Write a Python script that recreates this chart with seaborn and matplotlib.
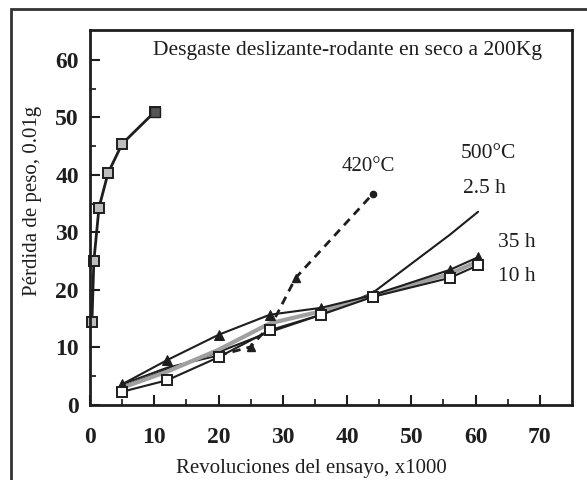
import matplotlib
matplotlib.use("Agg")
import matplotlib.pyplot as plt
import seaborn as sns
from matplotlib.patches import Rectangle

# Data (x in thousands of revolutions, y in 0.01 g)
x_early = [0.3, 0.6, 1.4, 2.8, 5.0, 10.1]
y_early = [14.4, 25, 34.3, 40.3, 45.4, 51]

x_420 = [5, 12, 20, 25, 28.5, 32, 44]
y_420 = [3.6, 6.5, 8.6, 10.1, 14.5, 22.1, 36.7]

x_25h = [5, 12, 20, 28, 36, 44, 56, 60.4]
y_25h = [3.2, 6.2, 9.2, 12.7, 15.7, 19.5, 29.6, 33.6]

x_35h = [5, 12, 20, 28, 36, 44, 56, 60.4]
y_35h = [3.6, 7.8, 12.2, 15.7, 16.9, 19.1, 23.5, 25.7]

x_mid = [5, 12, 20, 28, 36, 44, 56, 60.4]
y_mid = [3.0, 5.8, 9.6, 14.2, 16.3, 19.0, 22.8, 25.0]

x_10h = [5, 12, 20, 28, 36, 44, 56, 60.4]
y_10h = [2.3, 4.3, 8.3, 13.0, 15.7, 18.8, 22.1, 24.3]

sns.set_style("ticks")
plt.rcParams['font.family'] = ['Liberation Serif', 'DejaVu Serif']

fig = plt.figure(figsize=(5.87, 4.80), dpi=100)
ax = fig.add_axes([0.1533, 0.1563, 0.8211, 0.7812])

ink = '#1e1e1e'

# 420 °C: solid start, dashed rise
sns.lineplot(x=x_420[:3], y=y_420[:3], ax=ax, color=ink, lw=1.3, sort=False)
sns.lineplot(x=x_420[2:], y=y_420[2:], ax=ax, color=ink, lw=2.0, linestyle=(0, (3, 2.2)), sort=False)
ax.plot(x_420[3:6:2], y_420[3:6:2], '^', color=ink, ms=6)
ax.plot(x_420[-1], y_420[-1], 'o', color=ink, ms=4.5)

sns.lineplot(x=x_25h, y=y_25h, ax=ax, color=ink, lw=1.5, sort=False)
sns.lineplot(x=x_mid, y=y_mid, ax=ax, color='#a0a0a0', lw=3.0, sort=False)
sns.lineplot(x=x_35h, y=y_35h, ax=ax, color=ink, lw=1.5, marker='^', markersize=7,
             markerfacecolor=ink, markeredgecolor=ink, sort=False)
sns.lineplot(x=x_10h, y=y_10h, ax=ax, color=ink, lw=1.5, marker='s', markersize=6.5,
             markerfacecolor='white', markeredgecolor=ink, markeredgewidth=1.4, sort=False)

sns.lineplot(x=x_early, y=y_early, ax=ax, color=ink, lw=2.0, marker='s', markersize=7,
             markerfacecolor='#bdbdbd', markeredgecolor=ink, markeredgewidth=1.4, sort=False,
             clip_on=False)
ax.plot(x_early[-1], y_early[-1], 's', color='#555555', mec=ink, ms=7)

ax.set_xlim(0, 75)
ax.set_ylim(0, 65.2)
ax.set_xticks(range(0, 71, 10))
ax.set_yticks(range(0, 61, 10))
ax.set_xticks(range(5, 71, 10), minor=True)
ax.set_yticks(range(5, 61, 10), minor=True)
ax.tick_params(which='major', direction='in', length=7, width=1.5, labelsize=17, colors=ink)
ax.tick_params(which='minor', direction='in', length=4, width=1.3)
ax.tick_params(axis='x', which='major', pad=16)
ax.tick_params(axis='y', which='major', pad=8)
for lab in ax.get_xticklabels() + ax.get_yticklabels():
    lab.set_fontweight('bold')
for s in ax.spines.values():
    s.set_visible(True)
    s.set_linewidth(2.0)
    s.set_color(ink)

ax.set_xlabel('Revoluciones del ensayo, x1000', fontsize=15, color=ink)
ax.set_ylabel('Pérdida de peso, 0.01g', fontsize=15, color=ink)
ax.xaxis.set_label_coords(0.46, -0.145)
ax.yaxis.set_label_coords(-0.10, 0.545)

ax.text(40.0, 61.7, 'Desgaste deslizante-rodante en seco a 200Kg', ha='center', va='center',
        fontsize=15.5, color=ink)
ax.text(43.3, 41.5, '420°C', ha='center', va='center', fontsize=15, color=ink)
ax.text(62.0, 43.8, '500°C', ha='center', va='center', fontsize=15.5, color=ink)
ax.text(61.4, 37.7, '2.5 h', ha='center', va='center', fontsize=15.5, color=ink)
ax.text(66.4, 28.2, '35 h', ha='center', va='center', fontsize=15.5, color=ink)
ax.text(66.4, 22.3, '10 h', ha='center', va='center', fontsize=15.5, color=ink)

fig.patches.append(Rectangle((11 / 587, -0.05), 1.0, 1 - 9 / 480 + 0.05, transform=fig.transFigure,
                             fill=False, edgecolor='#333333', lw=2.0))

fig.savefig('out.png', dpi=100)
